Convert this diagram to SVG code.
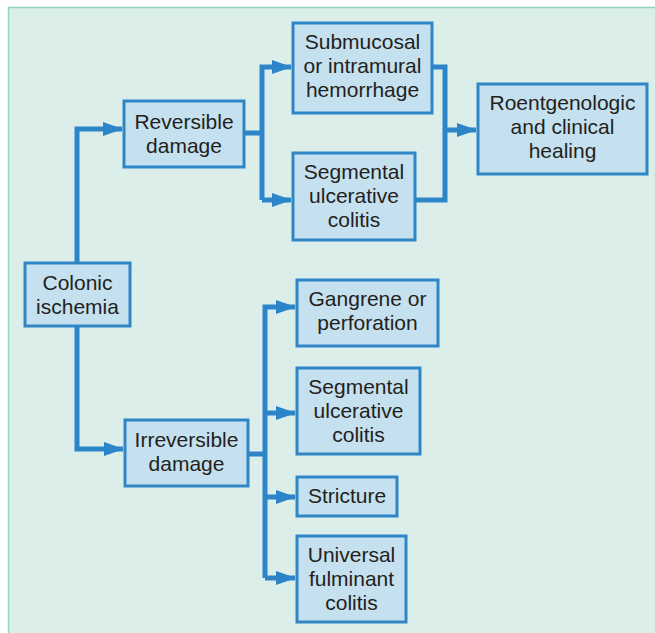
<svg xmlns="http://www.w3.org/2000/svg" width="655" height="633" viewBox="0 0 655 633">
  <defs>
    <style>
      .box rect { fill: #C5E0EE; stroke: #2E86C6; stroke-width: 3; }
      .box text { font-family: "Liberation Sans", Arial, sans-serif; font-size: 21px; fill: #231F20; text-anchor: middle; }
      .wire { fill: none; stroke: #2B85C8; stroke-width: 5; stroke-linejoin: miter; }
    </style>
    <marker id="arrow" viewBox="0 0 20 14" refX="19" refY="7" markerWidth="20" markerHeight="14" markerUnits="userSpaceOnUse" orient="auto">
      <path d="M0,0 L20,7 L0,14 Z" fill="#2B85C8"/>
    </marker>
  </defs>

  <!-- panel -->
  <rect x="0" y="0" width="655" height="633" fill="#FFFFFF"/>
  <rect x="8" y="7" width="650" height="630" fill="#DCEEEA"/>
  <line x1="8.5" y1="7" x2="8.5" y2="633" stroke="#8FD5C2" stroke-width="1.5"/>
  <line x1="8" y1="7.5" x2="655" y2="7.5" stroke="#8FD5C2" stroke-width="1.5"/>

  <!-- connectors -->
  <g id="connectors">
    <path class="wire" d="M77,263 V129 H122" marker-end="url(#arrow)"/>
    <path class="wire" d="M77,326 V449 H123" marker-end="url(#arrow)"/>
    <path class="wire" d="M244,133 H262"/>
    <path class="wire" d="M262,200 V67 H291" marker-end="url(#arrow)"/>
    <path class="wire" d="M262,200 H291" marker-end="url(#arrow)"/>
    <path class="wire" d="M432,67 H445 V200 H415"/>
    <path class="wire" d="M445,130 H476" marker-end="url(#arrow)"/>
    <path class="wire" d="M248,454 H265"/>
    <path class="wire" d="M265,578 V307 H295" marker-end="url(#arrow)"/>
    <path class="wire" d="M265,413 H295" marker-end="url(#arrow)"/>
    <path class="wire" d="M265,497 H295" marker-end="url(#arrow)"/>
    <path class="wire" d="M265,578 H295" marker-end="url(#arrow)"/>
  </g>

  <g id="colonic-ischemia" class="box">
    <rect x="25" y="263" width="105" height="63"/>
    <text x="77.5" y="290">Colonic</text>
    <text x="77.5" y="314">ischemia</text>
  </g>

  <g id="reversible-damage" class="box">
    <rect x="124" y="101" width="120" height="66"/>
    <text x="184" y="129">Reversible</text>
    <text x="184" y="153">damage</text>
  </g>

  <g id="irreversible-damage" class="box">
    <rect x="125" y="420" width="123" height="66"/>
    <text x="186.5" y="447">Irreversible</text>
    <text x="186.5" y="471">damage</text>
  </g>

  <g id="submucosal-hemorrhage" class="box">
    <rect x="293" y="23" width="139" height="90"/>
    <text x="362.5" y="49">Submucosal</text>
    <text x="362.5" y="73">or intramural</text>
    <text x="362.5" y="97">hemorrhage</text>
  </g>

  <g id="segmental-colitis-reversible" class="box">
    <rect x="293" y="153" width="122" height="87"/>
    <text x="354" y="179">Segmental</text>
    <text x="354" y="203">ulcerative</text>
    <text x="354" y="227">colitis</text>
  </g>

  <g id="healing" class="box">
    <rect x="478" y="84" width="169" height="90"/>
    <text x="562.5" y="110">Roentgenologic</text>
    <text x="562.5" y="134">and clinical</text>
    <text x="562.5" y="158">healing</text>
  </g>

  <g id="gangrene-perforation" class="box">
    <rect x="297" y="280" width="141" height="66"/>
    <text x="367.5" y="306">Gangrene or</text>
    <text x="367.5" y="330">perforation</text>
  </g>

  <g id="segmental-colitis-irreversible" class="box">
    <rect x="297" y="368" width="123" height="86"/>
    <text x="358.5" y="394">Segmental</text>
    <text x="358.5" y="418">ulcerative</text>
    <text x="358.5" y="442">colitis</text>
  </g>

  <g id="stricture" class="box">
    <rect x="297" y="477" width="100" height="39"/>
    <text x="347" y="503">Stricture</text>
  </g>

  <g id="universal-fulminant-colitis" class="box">
    <rect x="297" y="536" width="109" height="86"/>
    <text x="351.5" y="562">Universal</text>
    <text x="351.5" y="586">fulminant</text>
    <text x="351.5" y="610">colitis</text>
  </g>
</svg>
